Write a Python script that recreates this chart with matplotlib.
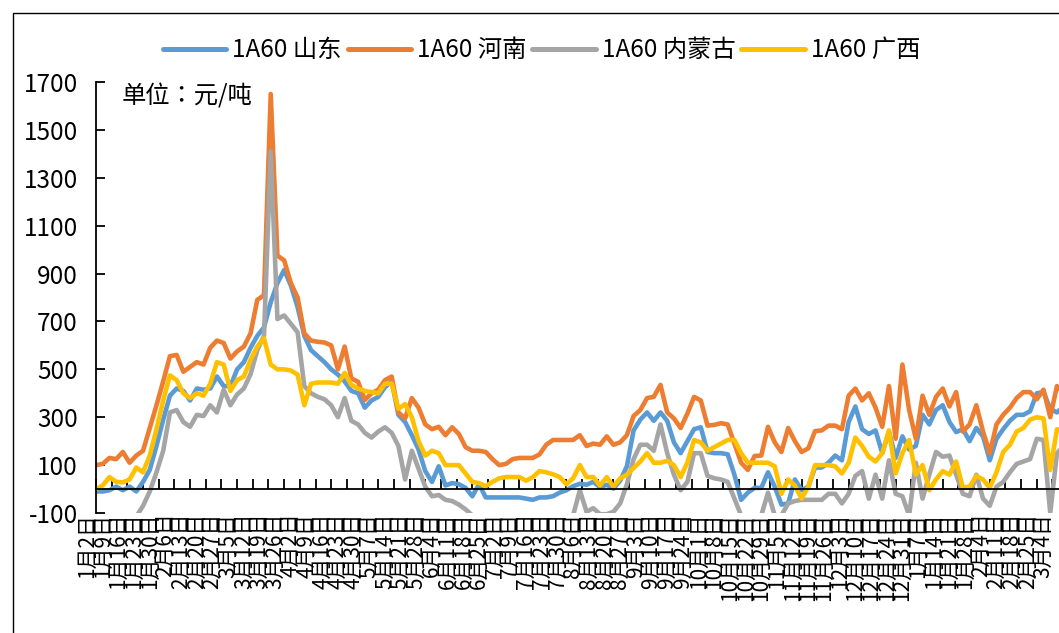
import numpy as np
import pandas as pd
import matplotlib
matplotlib.use("Agg")
import matplotlib.pyplot as plt
import matplotlib.transforms as mtransforms
from matplotlib.patches import Rectangle

plt.rcParams['font.family'] = ['Noto Sans CJK SC', 'DejaVu Sans']
plt.rcParams['axes.unicode_minus'] = False

# 价差数据，单位：元/吨，自2024年1月2日起每3天取一个点
start = pd.Timestamp('2024-01-02')
series_names = ['1A60 山东', '1A60 河南', '1A60 内蒙古', '1A60 广西']
colors = ['#5B9BD5', '#ED7D31', '#A5A5A5', '#FFC000']

shandong = [
    -10, -10, -5, 10, -5, 10, -10, 30, 80, 180,
    290, 390, 420, 410, 370, 420, 415, 420, 470, 430,
    430, 500, 530, 590, 640, 675, 780, 860, 915, 850,
    760, 640, 580, 555, 530, 500, 478, 450, 410, 400,
    340, 370, 385, 425, 450, 310, 280, 225, 165, 75,
    30, 95, 15, 25, 20, 5, -30, 20, -35, -35,
    -35, -35, -35, -35, -40, -45, -35, -35, -30, -15,
    -5, 12, 22, 18, 30, 8, 18, 2, 35, 95,
    245, 290, 320, 285, 320, 285, 195, 150, 200, 250,
    258, 155, 150, 150, 145, 60, -45, -15, 5, 5,
    70, 10, -65, -60, 40, -5, 10, 90, 90, 110,
    140, 120, 280, 345, 250, 230, 245, 150, 240, 130,
    220, 165, 180, 310, 270, 330, 350, 280, 238, 250,
    200, 255, 220, 120, 210, 250, 285, 310, 310, 325,
    400, 405, 335, 320, 345,
]
henan = [
    100, 105, 130, 125, 155, 110, 140, 160, 255, 350,
    450, 555, 560, 490, 510, 530, 520, 590, 620, 610,
    545, 575, 595, 650, 790, 810, 1650, 975, 955, 860,
    800, 650, 620, 615, 612, 600, 500, 595, 462, 448,
    372, 400, 415, 455, 470, 320, 295, 380, 340, 270,
    250, 260, 225, 258, 230, 175, 160, 160, 155, 125,
    100, 105, 125, 130, 130, 130, 145, 185, 205, 205,
    205, 205, 225, 180, 190, 185, 220, 185, 195, 225,
    305, 330, 380, 385, 435, 320, 295, 255, 315, 385,
    370, 265, 268, 275, 270, 190, 110, 80, 138, 140,
    260, 195, 155, 255, 200, 155, 170, 242, 245, 265,
    265, 250, 390, 420, 370, 400, 340, 260, 430, 210,
    520, 330, 210, 390, 310, 385, 420, 345, 405, 240,
    270, 350, 240, 150, 270, 310, 340, 380, 405, 405,
    375, 415, 300, 430, 400,
]
neimenggu = [
    -120, -120, -120, -120, -120, -120, -115, -70, -10, 70,
    160, 320, 330, 280, 260, 310, 305, 350, 320, 415,
    350, 395, 420, 480, 580, 640, 1410, 710, 725, 690,
    655, 430, 400, 385, 375, 350, 300, 380, 285, 270,
    235, 215, 240, 258, 235, 180, 40, 160, 85, 10,
    -30, -25, -45, -50, -65, -85, -110, -110, -110, -110,
    -110, -110, -110, -110, -110, -110, -110, -110, -110, -110,
    -110, -110, -5, -95, -80, -105, -105, -95, -60, 20,
    125, 185, 185, 160, 270, 150, 60, -5, 30, 150,
    150, 55, 45, 40, 30, -40, -110, -110, -110, -110,
    -15, -110, -110, -60, -50, -45, -45, -45, -45, -20,
    -20, -60, -20, 55, 75, -40, 60, -40, 120, -20,
    -30, -110, 110, -40, 60, 155, 135, 140, 60, -20,
    -30, 60, -40, -70, 10, 30, 70, 105, 115, 125,
    210, 205, -100, 150, 180,
]
guangxi = [
    0, 15, 50, 30, 28, 40, 90, 70, 140, 250,
    370, 475, 455, 400, 380, 400, 390, 440, 530, 520,
    410, 455, 470, 540, 595, 630, 520, 500, 500, 495,
    478, 350, 440, 445, 445, 445, 440, 485, 435, 420,
    410, 405, 400, 440, 440, 335, 355, 300, 200, 140,
    160, 150, 100, 100, 100, 65, 30, 25, 12, 30,
    45, 50, 50, 50, 35, 50, 75, 70, 62, 50,
    20, 45, 100, 50, 50, 15, 50, 10, 45, 60,
    88, 115, 150, 110, 110, 118, 100, 50, 110, 205,
    195, 160, 175, 190, 205, 205, 150, 110, 110, 110,
    110, 95, -20, 40, 15, -40, 10, 100, 100, 100,
    95, 65, 110, 215, 180, 135, 115, 150, 245, 65,
    150, 205, 60, 100, -5, 40, 75, 60, 115, 5,
    10, 55, 40, 5, 70, 155, 185, 240, 255, 290,
    300, 295, 80, 250, 240,
]
all_series = [shandong, henan, neimenggu, guangxi]

dates = pd.date_range(start, periods=len(shandong), freq='3D')
x = np.asarray((dates - start).days)

label_dates = pd.date_range(start, dates[-1], freq='7D')
tick_x = np.asarray((label_dates - start).days)
tick_labels = [f"{d.month}月{d.day}日" for d in label_dates]

y_ticks = list(range(-100, 1701, 200))

W, H = 1059, 633
fig = plt.figure(figsize=(W / 100, H / 100), dpi=100)
px_per_day = 2.24
ax = fig.add_axes([96 / W, 1 - 513 / H, x[-1] * px_per_day / W, 431 / H])

for vals, name, c in zip(all_series, series_names, colors):
    ax.plot(x, vals, color=c, lw=3.3, label=name,
            solid_joinstyle='round', solid_capstyle='round')

ax.set_xlim(0, x[-1])
ax.set_ylim(-100, 1700)

for s in ['top', 'right']:
    ax.spines[s].set_visible(False)
ax.spines['bottom'].set_position(('data', 0))
ax.spines['left'].set_linewidth(1.3)
ax.spines['bottom'].set_linewidth(1.3)
ax.tick_params(axis='x', direction='in', length=7, width=1.3, pad=17,
               labelrotation=90, labelsize=15)
ax.tick_params(axis='y', direction='in', length=6.5, width=1.3, pad=13,
               labelsize=17.5)

ax.set_yticks(y_ticks)
ax.set_yticklabels([str(v) for v in y_ticks])
ax.set_xticks(tick_x)
ax.set_xticklabels(tick_labels)

offset = mtransforms.ScaledTranslation(-9 / 100, 0, fig.dpi_scale_trans)
for lbl in ax.get_xticklabels():
    lbl.set_transform(lbl.get_transform() + offset)

fig.legend(loc='center', bbox_to_anchor=(0.5113, 0.921), ncol=4,
           frameon=False, fontsize=17.5, handlelength=2.6,
           handletextpad=0.25, columnspacing=0.25, borderaxespad=0)
for line in fig.legends[0].get_lines():
    line.set_linewidth(3.6)

fig.text(122 / W, 1 - 96 / H, '单位：元/吨', fontsize=17.5, va='center', ha='left',
         family=['Noto Sans CJK TC', 'DejaVu Sans'])

fig.patches.append(Rectangle((12.5 / W, -0.1), 1.2, 1.1 - 13.5 / H,
                             transform=fig.transFigure, fill=False,
                             edgecolor='black', lw=1.0))

fig.savefig('out.png', dpi=100)
